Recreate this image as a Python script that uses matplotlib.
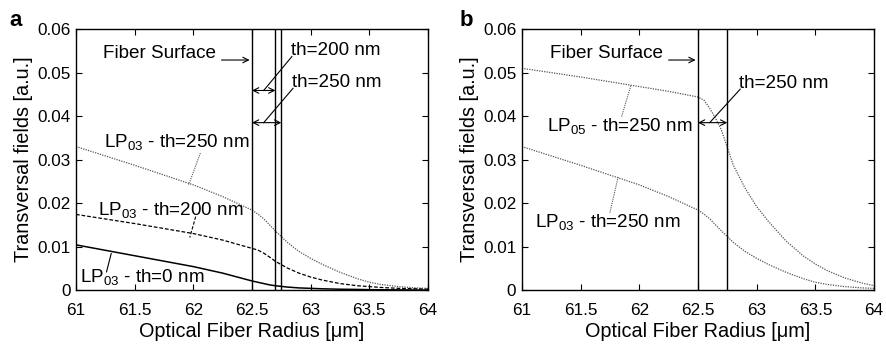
import numpy as np
import matplotlib
matplotlib.use('Agg')
import matplotlib.pyplot as plt

plt.rcParams['font.family'] = ['Liberation Sans', 'DejaVu Sans']
plt.rcParams['mathtext.default'] = 'regular'

# radius grid for the field curves [um]
radius = [61, 61.5, 62, 62.25, 62.5, 62.55, 62.6, 62.65, 62.7, 62.8, 62.9, 63, 63.1, 63.25, 63.4, 63.5,
          63.6, 63.75, 63.9, 64]

# panel a: LP03 for three overlay thicknesses
lp03_th250 = [0.0330, 0.0287, 0.0242, 0.0215, 0.0184, 0.0175, 0.0164, 0.0150, 0.0136, 0.0110, 0.0089, 0.0073,
              0.0059, 0.0041, 0.0026, 0.0018, 0.0013, 0.0008, 0.0005, 0.0004]
lp03_th200 = [0.0174, 0.0153, 0.0130, 0.0115, 0.0096, 0.0092, 0.0085, 0.0076, 0.0066, 0.0051, 0.0039, 0.0030,
              0.0023, 0.0015, 0.0010, 0.0008, 0.0006, 0.0004, 0.0003, 0.0002]
lp03_th0 = [0.0104, 0.0079, 0.0054, 0.0039, 0.0021, 0.0018, 0.0015, 0.0012, 0.0010, 0.0007, 0.0005, 0.0004,
            0.0003, 0.0002, 0.00015, 0.0001, 0.00008, 0.00005, 0.00002, 0.0]

# panel b: LP05 and LP03 at th=250 nm
lp05_th250 = [0.0510, 0.0490, 0.0468, 0.0457, 0.0444, 0.0437, 0.0418, 0.0395, 0.0368, 0.0288, 0.0235, 0.0192,
              0.0158, 0.0113, 0.0078, 0.0060, 0.0045, 0.0028, 0.0016, 0.0010]

surface_a = [62.5, 62.7, 62.75]
surface_b = [62.5, 62.75]

xticks = [61, 61.5, 62, 62.5, 63, 63.5, 64]
yticks = [0, 0.01, 0.02, 0.03, 0.04, 0.05, 0.06]

fig = plt.figure(figsize=(8.86, 3.47), dpi=100)
ax1 = fig.add_axes([0.0858, 0.164, 0.3972, 0.752])
ax2 = fig.add_axes([0.589, 0.164, 0.3975, 0.752])

fs_tick = 12.3
fs_txt = 13.6
fs_lab = 14.3


def style(ax):
    ax.set_xlim(61, 64)
    ax.set_ylim(0, 0.06)
    ax.set_xticks(xticks)
    ax.set_xticklabels([f'{t:g}' for t in xticks])
    ax.set_yticks(yticks)
    ax.set_yticklabels([f'{t:g}' for t in yticks])
    ax.tick_params(direction='in', top=True, right=True, labelsize=fs_tick, length=4, width=0.8)
    ax.tick_params(axis='x', pad=9)
    ax.tick_params(axis='y', pad=4)
    ax.set_xlabel('Optical Fiber Radius [\u03bcm]', fontsize=fs_lab, labelpad=3)
    ax.set_ylabel('Transversal fields [a.u.]', fontsize=fs_lab, labelpad=3)
    for s in ax.spines.values():
        s.set_linewidth(1.0)


def arrow(ax, x0, y0, x1, y1, style='->'):
    ax.annotate('', xy=(x1, y1), xytext=(x0, y0),
                arrowprops=dict(arrowstyle=style, lw=0.8, color='black', shrinkA=0, shrinkB=0,
                                mutation_scale=10))


# ---- panel a ----
style(ax1)
ax1.plot(radius, lp03_th250, color='#555555', ls=(0, (1, 1)), lw=0.9)
ax1.plot(radius, lp03_th200, color='black', ls=(0, (3, 1.5)), lw=0.9)
ax1.plot(radius, lp03_th0, color='black', ls='-', lw=1.1)
for x in surface_a:
    ax1.axvline(x, color='black', lw=1.0)

ax1.text(61.23, 0.0545, 'Fiber Surface', fontsize=fs_txt, va='center')
arrow(ax1, 62.24, 0.0529, 62.48, 0.0529)
ax1.text(62.83, 0.0551, 'th=200 nm', fontsize=fs_txt, va='center')
ax1.plot([62.84, 62.6], [0.0537, 0.0459], color='black', lw=0.8)
arrow(ax1, 62.5, 0.0459, 62.7, 0.0459, '<->')
ax1.text(62.84, 0.0477, 'th=250 nm', fontsize=fs_txt, va='center')
ax1.plot([62.85, 62.6], [0.0464, 0.0385], color='black', lw=0.8)
arrow(ax1, 62.5, 0.0385, 62.75, 0.0385, '<->')

ax1.text(61.24, 0.0341, 'LP$_{03}$ - th=250 nm', fontsize=fs_txt, va='center')
ax1.plot([62.06, 61.96], [0.0315, 0.0242], color='#555555', ls=(0, (1, 1)), lw=0.8)
ax1.text(61.19, 0.0184, 'LP$_{03}$ - th=200 nm', fontsize=fs_txt, va='center')
ax1.plot([62.02, 61.97], [0.0169, 0.0121], color='black', ls=(0, (3, 1.5)), lw=0.8)
ax1.text(61.03, 0.0031, 'LP$_{03}$ - th=0 nm', fontsize=fs_txt, va='center')
ax1.plot([61.26, 61.3], [0.0042, 0.0084], color='black', lw=0.8)

# ---- panel b ----
style(ax2)
ax2.plot(radius, lp05_th250, color='#555555', ls=(0, (1, 1)), lw=0.9)
ax2.plot(radius, lp03_th250, color='#555555', ls=(0, (1, 1)), lw=0.9)
for x in surface_b:
    ax2.axvline(x, color='black', lw=1.0)

ax2.text(61.24, 0.0545, 'Fiber Surface', fontsize=fs_txt, va='center')
arrow(ax2, 62.25, 0.0529, 62.48, 0.0529)
ax2.text(62.85, 0.0476, 'th=250 nm', fontsize=fs_txt, va='center')
ax2.plot([62.86, 62.6], [0.0462, 0.0385], color='black', lw=0.8)
arrow(ax2, 62.5, 0.0385, 62.75, 0.0385, '<->')

ax2.text(61.21, 0.0377, 'LP$_{05}$ - th=250 nm', fontsize=fs_txt, va='center')
ax2.plot([61.85, 61.93], [0.0399, 0.0472], color='#555555', ls=(0, (1, 1)), lw=0.8)
ax2.text(61.11, 0.0157, 'LP$_{03}$ - th=250 nm', fontsize=fs_txt, va='center')
ax2.plot([61.75, 61.82], [0.0178, 0.0260], color='#555555', ls=(0, (1, 1)), lw=0.8)

fig.text(0.011, 0.972, 'a', fontsize=16, fontweight='bold', va='top')
fig.text(0.519, 0.972, 'b', fontsize=16, fontweight='bold', va='top')

fig.savefig('out.png', dpi=100)
